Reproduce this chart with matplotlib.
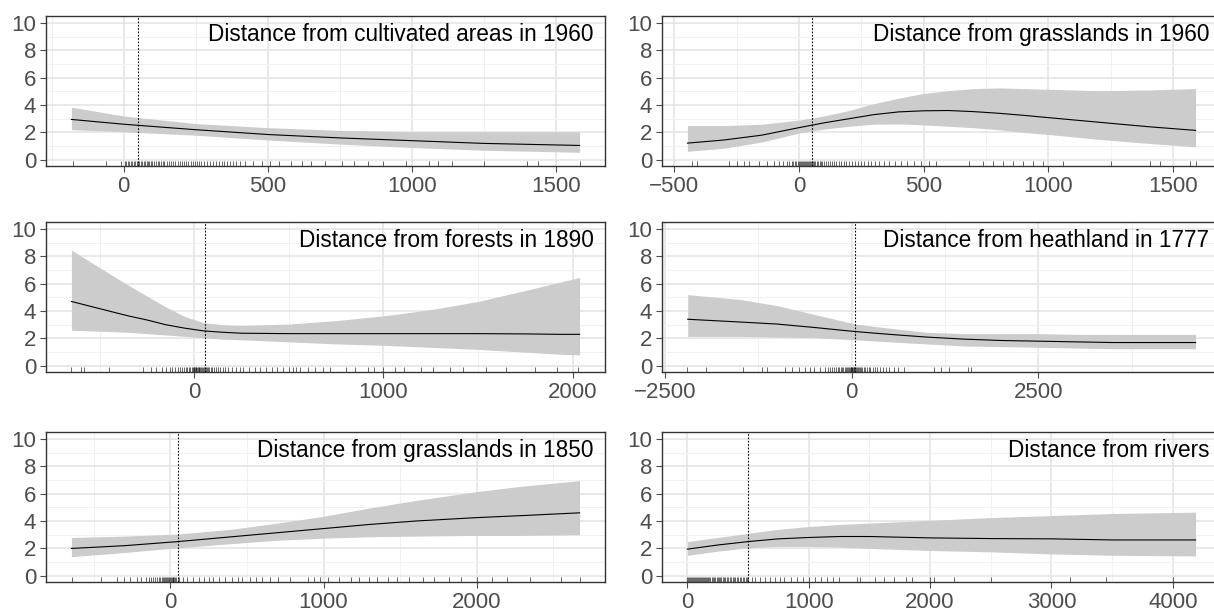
import matplotlib

matplotlib.use("Agg")

import matplotlib.pyplot as plt
from matplotlib.transforms import blended_transform_factory

SETTINGS = {
    "font.family": ["Liberation Sans", "DejaVu Sans"],
    "font.size"  : 16,
}
plt.rcParams.update(SETTINGS)

# ---- panel 1: cultivated areas 1960
cult_x    = [-181, 0, 250, 500, 750, 1000, 1250, 1583]
cult_fit  = [2.95, 2.6, 2.2, 1.85, 1.6, 1.4, 1.2, 1.05]
cult_lo   = [2.2, 2.05, 1.8, 1.45, 1.15, 0.9, 0.7, 0.55]
cult_hi   = [3.85, 3.2, 2.65, 2.35, 2.15, 2.05, 2.05, 2.05]
cult_rug  = [-175, -60, -10, 5, 10, 15, 20, 25, 30, 35, 40, 45, 50, 55, 60, 65, 70, 75, 80, 85, 90,
             95, 100, 106, 112, 118, 124, 130, 136, 142, 150, 158, 165, 172, 180, 188, 195, 203, 210,
             218, 225, 233, 240, 248, 255, 263, 270, 280, 290, 300, 310, 320, 330, 340, 350, 360, 370,
             380, 390, 405, 420, 450, 480, 510, 540, 580, 620, 650, 700, 760, 800, 850, 900, 980,
             1060, 1090, 1140, 1250, 1400, 1440, 1583]
cult_ref  = 50

# ---- panel 2: grasslands 1960
gr60_x    = [-448, -300, -150, 0, 100, 200, 300, 400, 500, 600, 700, 800, 900, 1000, 1200, 1400, 1591]
gr60_fit  = [1.22, 1.45, 1.8, 2.35, 2.7, 3.0, 3.3, 3.5, 3.58, 3.6, 3.52, 3.4, 3.25, 3.08, 2.75, 2.42, 2.15]
gr60_lo   = [0.62, 0.85, 1.3, 1.95, 2.25, 2.45, 2.6, 2.62, 2.55, 2.45, 2.35, 2.2, 2.0, 1.85, 1.5, 1.2, 0.95]
gr60_hi   = [2.5, 2.5, 2.6, 2.9, 3.2, 3.6, 4.1, 4.5, 4.85, 5.05, 5.2, 5.25, 5.2, 5.15, 5.05, 5.1, 5.2]
gr60_rug  = [-430, -410, -280, -250, -220, -200, -160, -130, -100, -80, -65, -50, -40, -30, -24, -18,
             -12, -6, 0, 4, 8, 12, 16, 20, 24, 28, 32, 36, 40, 44, 48, 52, 56, 60, 65, 70, 76, 82, 88,
             94, 100, 108, 116, 124, 132, 140, 150, 160, 170, 180, 190, 200, 212, 224, 236, 248, 260,
             275, 290, 305, 320, 340, 360, 385, 410, 435, 460, 490, 520, 550, 680, 740, 780, 820, 860,
             900, 940, 980, 1060, 1250, 1410, 1450, 1570, 1591]
gr60_ref  = 50

# ---- panel 3: forests 1890
for_x     = [-649, -550, -450, -350, -250, -150, -50, 50, 150, 250, 500, 750, 1000, 1250, 1500, 1750, 1930, 2037]
for_fit   = [4.7, 4.35, 4.0, 3.65, 3.35, 3.0, 2.75, 2.55, 2.45, 2.38, 2.35, 2.35, 2.35, 2.35, 2.35, 2.33, 2.3, 2.3]
for_lo    = [2.6, 2.55, 2.5, 2.45, 2.35, 2.25, 2.15, 2.05, 1.95, 1.9, 1.75, 1.6, 1.5, 1.35, 1.2, 1.0, 0.85, 0.8]
for_hi    = [8.45, 7.6, 6.75, 5.9, 5.1, 4.3, 3.6, 3.15, 3.0, 2.95, 3.05, 3.3, 3.65, 4.1, 4.7, 5.5, 6.1, 6.45]
for_rug   = [-649, -600, -580, -450, -270, -230, -200, -170, -150, -130, -115, -100, -88, -76, -64, -54,
             -44, -36, -28, -20, -14, -8, -3, 0, 4, 8, 12, 16, 20, 24, 28, 32, 36, 40, 45, 50, 55, 60,
             66, 72, 80, 88, 96, 105, 115, 125, 138, 150, 165, 180, 200, 220, 240, 260, 290, 320, 350,
             380, 410, 440, 470, 500, 520, 540, 560, 600, 640, 680, 720, 800, 850, 920, 950, 1000,
             1060, 1110, 1200, 1260, 1350, 1420, 1540, 1650, 1800, 1920, 2030]
for_ref   = 55

# ---- panel 4: heathland 1777
heath_x   = [-2196, -1500, -1000, -500, 50, 500, 1000, 1500, 2000, 2500, 3000, 3500, 4603]
heath_fit = [3.4, 3.2, 3.05, 2.8, 2.5, 2.3, 2.1, 1.95, 1.85, 1.8, 1.75, 1.7, 1.7]
heath_lo  = [2.15, 2.15, 2.1, 2.05, 1.9, 1.75, 1.6, 1.45, 1.4, 1.35, 1.3, 1.25, 1.25]
heath_hi  = [5.2, 4.85, 4.4, 3.75, 3.05, 2.75, 2.45, 2.35, 2.35, 2.35, 2.3, 2.3, 2.3]
heath_rug = [-2200, -1950, -1450, -1200, -1130, -900, -800, -700, -620, -560, -500, -420, -360, -320,
             -290, -260, -235, -210, -190, -170, -150, -130, -112, -95, -80, -65, -50, -38, -26, -14,
             -4, 0, 6, 14, 24, 34, 44, 56, 68, 80, 95, 110, 125, 140, 160, 180, 200, 225, 250, 280,
             310, 340, 380, 420, 460, 500, 560, 620, 700, 1100, 1200, 1300, 1550, 1600]
heath_ref = 50

# ---- panel 5: grasslands 1850
gr50_x    = [-645, -300, 50, 400, 700, 1000, 1300, 1600, 2000, 2300, 2671]
gr50_fit  = [2.0, 2.2, 2.5, 2.85, 3.15, 3.45, 3.75, 4.0, 4.25, 4.4, 4.6]
gr50_lo   = [1.4, 1.7, 2.05, 2.35, 2.6, 2.75, 2.85, 2.9, 2.95, 2.95, 3.0]
gr50_hi   = [2.8, 2.9, 3.05, 3.4, 3.85, 4.35, 4.95, 5.5, 6.15, 6.55, 6.95]
gr50_rug  = [-640, -450, -350, -300, -260, -220, -190, -160, -140, -124, -110, -98, -86, -76, -66,
             -56, -48, -40, -32, -25, -18, -12, -6, 0, 5, 10, 15, 20, 26, 32, 40, 50, 60, 80, 110,
             150, 190, 220, 250, 280, 320, 360, 400, 440, 470, 520, 560, 600, 650, 700, 780, 900,
             940, 980, 1030, 1100, 1180, 1230, 1300, 1350, 1420, 1480, 1560, 1650, 1720, 1820, 1900,
             2000, 2100, 2200, 2350, 2550, 2671]
gr50_ref  = 50

# ---- panel 6: rivers
riv_x     = [0, 250, 500, 750, 1000, 1250, 1500, 2000, 2500, 3000, 3500, 4188]
riv_fit   = [1.95, 2.25, 2.5, 2.7, 2.8, 2.87, 2.87, 2.77, 2.72, 2.7, 2.62, 2.62]
riv_lo    = [1.5, 1.8, 2.05, 2.15, 2.15, 2.1, 2.0, 1.85, 1.75, 1.6, 1.5, 1.45]
riv_hi    = [2.5, 2.8, 3.1, 3.4, 3.6, 3.75, 3.85, 4.05, 4.25, 4.4, 4.55, 4.65]
riv_rug   = [0, 8, 16, 24, 32, 40, 48, 56, 64, 72, 80, 88, 96, 104, 112, 120, 128, 136, 144, 152, 160,
             170, 180, 190, 200, 210, 220, 230, 240, 250, 260, 270, 280, 290, 300, 312, 324, 336, 348,
             360, 372, 384, 396, 408, 420, 432, 444, 456, 468, 480, 492, 500, 530, 560, 600, 640, 680,
             720, 760, 800, 850, 900, 950, 1000, 1050, 1100, 1150, 1200, 1250, 1400, 1420, 1550,
             1620, 1700, 1800, 1850, 2000, 2030, 2200, 2500, 3150, 3450, 4000]
riv_ref   = 500

LABELS = [
    "Distance from cultivated areas in 1960",
    "Distance from grasslands in 1960",
    "Distance from forests in 1890",
    "Distance from heathland in 1777",
    "Distance from grasslands in 1850",
    "Distance from rivers",
]
MAJOR = [
    [0, 500, 1000, 1500],
    [-500, 0, 500, 1000, 1500],
    [0, 1000, 2000],
    [-2500, 0, 2500],
    [0, 1000, 2000],
    [0, 1000, 2000, 3000, 4000],
]

PANELS = [
    (cult_x, cult_fit, cult_lo, cult_hi, cult_rug, cult_ref),
    (gr60_x, gr60_fit, gr60_lo, gr60_hi, gr60_rug, gr60_ref),
    (for_x, for_fit, for_lo, for_hi, for_rug, for_ref),
    (heath_x, heath_fit, heath_lo, heath_hi, heath_rug, heath_ref),
    (gr50_x, gr50_fit, gr50_lo, gr50_hi, gr50_rug, gr50_ref),
    (riv_x, riv_fit, riv_lo, riv_hi, riv_rug, riv_ref),
]

W, H = 1214, 611
COLUMN_LEFT  = [46, 662]
PANEL_WIDTH  = 559
ROW_TOP      = [16, 222, 432]
PANEL_HEIGHT = 150

figure = plt.figure(figsize=(W / 100, H / 100), dpi=100)

for index, (xs, fit, lo, hi, rug, ref) in enumerate(PANELS):
    row, col = divmod(index, 2)
    left   = COLUMN_LEFT[col] / W
    bottom = 1 - (ROW_TOP[row] + PANEL_HEIGHT) / H
    axis   = figure.add_axes([left, bottom, PANEL_WIDTH / W, PANEL_HEIGHT / H])

    major = MAJOR[index]
    step  = major[1] - major[0]
    minor = [m + step / 2 for m in [major[0] - step] + major]
    axis.set_xticks(major)
    axis.set_xticks(minor, minor=True)
    axis.set_yticks(range(0, 11, 2))
    axis.set_yticks(range(1, 11, 2), minor=True)

    # limits after ticks, so off-range minor ticks do not widen the view
    low, high = min(xs + rug), max(xs + rug)
    pad = 0.05 * (high - low)
    axis.set_xlim(low - pad, high + pad)
    axis.set_ylim(-0.45, 10.5)

    axis.grid(which="major", color="#e3e3e3", linewidth=1.1)
    axis.grid(which="minor", color="#efefef", linewidth=0.6)
    axis.set_axisbelow(True)
    axis.tick_params(which="major", labelsize=16, colors="#4d4d4d", length=4, width=0.8, pad=3)
    axis.tick_params(which="minor", length=0)
    for spine in axis.spines.values():
        spine.set_color("#333333")
        spine.set_linewidth(1.0)

    axis.fill_between(xs, lo, hi, color="#cccccc", linewidth=0)
    axis.plot(xs, fit, color="black", linewidth=0.8)
    axis.axvline(ref, color="black", linewidth=0.8, linestyle=(0, (1.5, 1.5)))

    blend = blended_transform_factory(axis.transData, axis.transAxes)
    axis.vlines(rug, 0, 0.035, transform=blend, color="black", alpha=0.6, linewidth=0.7)

    axis.text(0.98 if col == 0 else 0.979, 0.833, LABELS[index], transform=axis.transAxes,
              ha="right", va="baseline", fontsize=16.3, color="black")

figure.savefig("out.png", dpi=100)
